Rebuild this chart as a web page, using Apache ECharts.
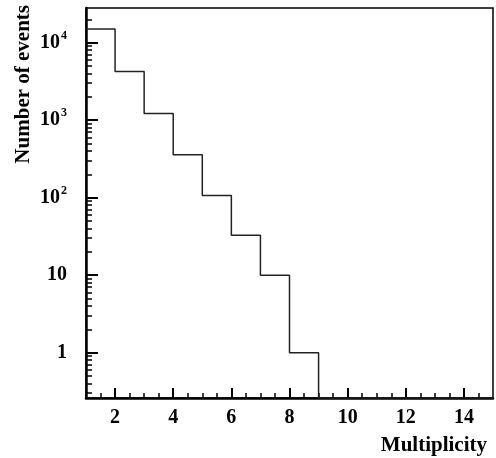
<!DOCTYPE html>
<html>
<head>
<meta charset="utf-8">
<script src="https://cdn.jsdelivr.net/npm/echarts@6/dist/echarts.min.js"></script>
<style>
  html, body { margin: 0; padding: 0; background: #fff; }
  #chart { width: 496px; height: 458px; }
</style>
</head>
<body>
<div id="chart"></div>
<script>
// bin edges (low edge of each bin) and counts
var binLow = [1, 2, 3, 4, 5, 6, 7, 8, 9, 10, 11, 12, 13, 14];
var counts = [15000, 4230, 1220, 357, 107, 32.7, 10, 1, 0, 0, 0, 0, 0, 0];
var xLabels = [2, 4, 6, 8, 10, 12, 14];
var yLabels = [1, 10, 100, 1000, 10000];

var xMin = 1, xMax = 15;
var yMin = 0.26, yMax = 28000;

// minor ticks
var xMinor = [];
for (var v = 1.5; v < xMax; v += 0.5) {
    if (v % 2 !== 0) xMinor.push(v);
}
var yMinor = [];
for (var d = 0.1; d < yMax; d *= 10) {
    for (var k = 2; k <= 9; k++) {
        var m = +(d * k).toPrecision(3);
        if (m > yMin && m < yMax) yMinor.push(m);
    }
}

// histogram outline (empty bins drop to the axis floor)
var points = [];
for (var i = 0; i < binLow.length; i++) {
    points.push([binLow[i], counts[i] > 0 ? counts[i] : yMin]);
}
points.push([xMax, yMin]);

var font = '"Liberation Serif", "DejaVu Serif", serif';

var chart = echarts.init(document.getElementById('chart'));
chart.setOption({
    animation: false,
    grid: {
        left: 86, right: 3, top: 8, bottom: 60,
        show: true,
        borderColor: '#000',
        borderWidth: 1.5
    },
    xAxis: [
        {
            type: 'value',
            min: xMin,
            max: xMax,
            axisLine: { lineStyle: { color: '#000', width: 2.5 } },
            axisTick: { inside: true, length: 10, customValues: xLabels, lineStyle: { color: '#000', width: 2 } },
            axisLabel: {
                customValues: xLabels,
                margin: 10,
                color: '#000',
                fontFamily: font,
                fontWeight: 'bold',
                fontSize: 20
            },
            splitLine: { show: false }
        },
        {
            type: 'value',
            min: xMin,
            max: xMax,
            position: 'bottom',
            axisLine: { show: false },
            axisTick: { inside: true, length: 5, customValues: xMinor, lineStyle: { color: '#000', width: 1.5 } },
            axisLabel: { show: false },
            splitLine: { show: false }
        }
    ],
    yAxis: [
        {
            type: 'log',
            min: yMin,
            max: yMax,
            axisLine: { show: true, lineStyle: { color: '#000', width: 2.5 } },
            axisTick: { show: true, inside: true, length: 12, customValues: yLabels, lineStyle: { color: '#000', width: 2 } },
            axisLabel: {
                customValues: yLabels,
                margin: 19,
                color: '#000',
                fontFamily: font,
                fontWeight: 'bold',
                fontSize: 20,
                formatter: function (val) {
                    var p = Math.round(Math.log10(val));
                    if (p < 2) return '{b|' + Math.round(val) + '}';
                    return '{b|10}{s|' + p + '}';
                },
                rich: {
                    b: { fontFamily: font, fontWeight: 'bold', fontSize: 20, lineHeight: 26, color: '#000' },
                    s: { fontFamily: font, fontWeight: 'bold', fontSize: 12, lineHeight: 12, color: '#000', verticalAlign: 'top', padding: [0, 0, 0, 1] }
                }
            },
            splitLine: { show: false }
        },
        {
            type: 'log',
            min: yMin,
            max: yMax,
            position: 'left',
            axisLine: { show: false },
            axisTick: { show: true, inside: true, length: 6, customValues: yMinor, lineStyle: { color: '#000', width: 1.5 } },
            axisLabel: { show: false },
            splitLine: { show: false }
        }
    ],
    series: [
        {
            type: 'line',
            step: 'end',
            xAxisIndex: 0,
            yAxisIndex: 0,
            data: points,
            showSymbol: false,
            symbol: 'none',
            lineStyle: { color: '#222', width: 1.5 }
        }
    ],
    graphic: [
        {
            type: 'text',
            x: 24,
            y: 5,
            rotation: Math.PI / 2,
            style: {
                text: 'Number of events',
                fontFamily: font,
                fontWeight: 'bold',
                fontSize: 21,
                fill: '#000',
                align: 'right',
                verticalAlign: 'middle'
            }
        },
        {
            type: 'text',
            right: 9,
            top: 435,
            style: {
                text: 'Multiplicity',
                fontFamily: font,
                fontWeight: 'bold',
                fontSize: 21,
                fill: '#000'
            }
        }
    ]
});
</script>
</body>
</html>
